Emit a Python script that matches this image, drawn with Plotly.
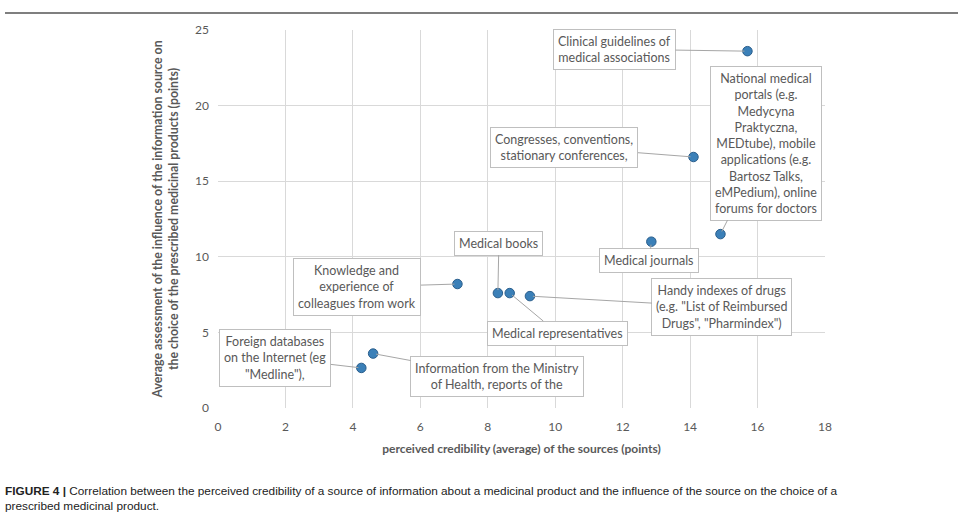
import plotly.graph_objects as go

# Data
sources = [
    "Clinical guidelines of<br>medical associations",
    "National medical<br>portals (e.g.<br>Medycyna<br>Praktyczna,<br>MEDtube), mobile<br>applications (e.g.<br>Bartosz Talks,<br>eMPedium), online<br>forums for doctors",
    "Congresses, conventions,<br>stationary conferences,",
    "Medical journals",
    "Knowledge and<br>experience of<br>colleagues from work",
    "Medical books",
    "Medical representatives",
    "Handy indexes of drugs<br>(e.g. \"List of Reimbursed<br>Drugs\", \"Pharmindex\")",
    "Foreign databases<br>on the Internet (eg<br>\"Medline\"),",
    "Information from the Ministry<br>of Health, reports of the",
]
credibility = [15.7, 14.9, 14.1, 12.85, 7.1, 8.3, 8.65, 9.25, 4.25, 4.6]
influence = [23.6, 11.5, 16.6, 11.0, 8.2, 7.6, 7.6, 7.4, 2.65, 3.6]

x_ticks = [0, 2, 4, 6, 8, 10, 12, 14, 16, 18]
y_ticks = [0, 5, 10, 15, 20, 25]

# label offsets in pixels (layout only)
label_offsets = [(-133, -2), (46, -91), (-129, -10), (-2, 19), (-100, 3),
                 (1, -50), (48, 40), (192, 11), (-86, -10), (124, 23)]

FONT = "Lato, 'Liberation Sans', sans-serif"
GREY = "#595959"

fig = go.Figure()
fig.add_trace(go.Scatter(
    x=credibility, y=influence, mode="markers",
    marker=dict(size=9.5, color="#3b80b8", line=dict(color="#2a5e8c", width=1)),
    hoverinfo="skip", showlegend=False,
))

for txt, xv, yv, (ax, ay) in zip(sources, credibility, influence, label_offsets):
    fig.add_annotation(
        x=xv, y=yv, xref="x", yref="y", text=txt,
        showarrow=True, ax=ax, ay=ay, arrowhead=0, arrowwidth=1,
        arrowcolor="#a6a6a6", standoff=3,
        font=dict(family=FONT, size=12.5, color=GREY),
        bgcolor="white", bordercolor="#bfbfbf", borderwidth=1, borderpad=4,
        align="center",
    )

fig.update_xaxes(
    range=[0, 18], tickvals=x_ticks, showgrid=True, gridcolor="#d9d9d9",
    zeroline=False, showline=False, ticks="", automargin=False, ticklabelstandoff=10,
    tickfont=dict(family=FONT, size=12, color=GREY),
    title=dict(text="<b>perceived credibility (average) of the sources (points)</b>",
               font=dict(family=FONT, size=12, color=GREY), standoff=11),
)
fig.update_yaxes(
    range=[0, 25], tickvals=y_ticks, showgrid=True, gridcolor="#d9d9d9",
    zeroline=False, showline=False, ticks="", ticklabelstandoff=8, automargin=False,
    tickfont=dict(family=FONT, size=12, color=GREY),
    title=dict(text="<b>Average assessment of the influence of the information source on<br>the choice of the prescribed medicinal products (points)</b>",
               font=dict(family=FONT, size=12.3, color=GREY), standoff=13),
)

fig.add_shape(type="line", xref="paper", yref="paper", x0=-213/607, x1=1.22,
              y0=1.0 + 17/378, y1=1.0 + 17/378, line=dict(color="#555555", width=1.5))

fig.add_annotation(
    xref="paper", yref="paper", x=-215/607, y=-74/378, xanchor="left", yanchor="top",
    showarrow=False, align="left",
    text="<b>FIGURE 4 |</b> Correlation between the perceived credibility of a source of information about a medicinal product and the influence of the source on the choice of a<br>prescribed medicinal product.",
    font=dict(family="'Liberation Sans Narrow', 'Liberation Sans', sans-serif", size=11.8, color="#222222"),
)

fig.update_layout(
    width=958, height=516,
    margin=dict(l=218, r=133, t=30, b=108),
    paper_bgcolor="white", plot_bgcolor="white",
)

fig.write_html("out.html", config={"displayModeBar": False},
               post_script="document.body.style.margin='0px';document.body.style.overflow='hidden';")
